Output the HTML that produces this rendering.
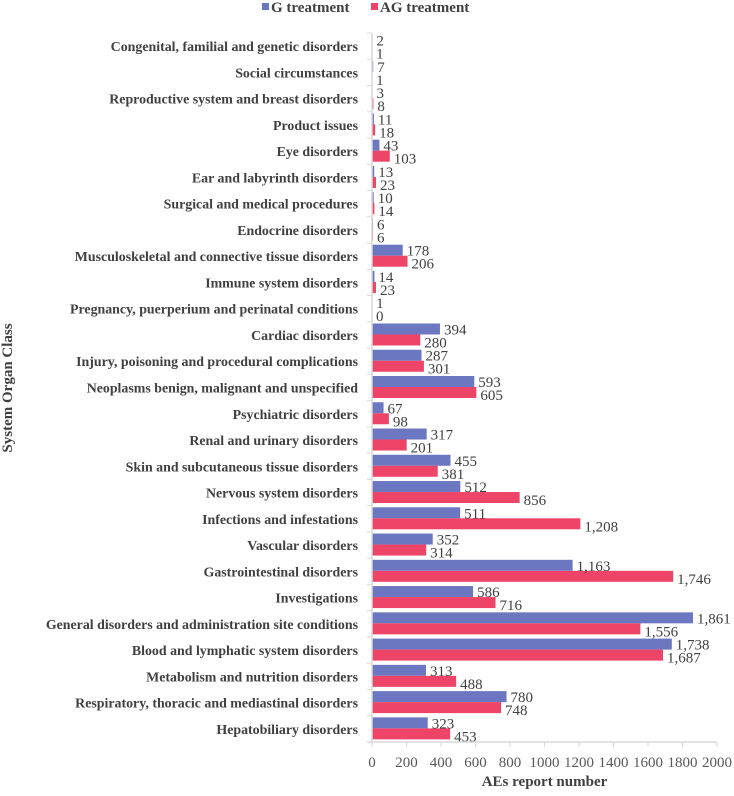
<!DOCTYPE html>
<html><head><meta charset="utf-8"><style>
body{margin:0;background:#fff;}
svg{font-family:"Liberation Serif",serif;}
</style></head><body>
<svg width="734" height="791" id="c">
</svg>
<script>
const categories=["Congenital, familial and genetic disorders","Social circumstances","Reproductive system and breast disorders","Product issues","Eye disorders","Ear and labyrinth disorders","Surgical and medical procedures","Endocrine disorders","Musculoskeletal and connective tissue disorders","Immune system disorders","Pregnancy, puerperium and perinatal conditions","Cardiac disorders","Injury, poisoning and procedural complications","Neoplasms benign, malignant and unspecified","Psychiatric disorders","Renal and urinary disorders","Skin and subcutaneous tissue disorders","Nervous system disorders","Infections and infestations","Vascular disorders","Gastrointestinal disorders","Investigations","General disorders and administration site conditions","Blood and lymphatic system disorders","Metabolism and nutrition disorders","Respiratory, thoracic and mediastinal disorders","Hepatobiliary disorders"];
const gValues=[2,7,3,11,43,13,10,6,178,14,1,394,287,593,67,317,455,512,511,352,1163,586,1861,1738,313,780,323];
const agValues=[1,1,8,18,103,23,14,6,206,23,0,280,301,605,98,201,381,856,1208,314,1746,716,1556,1687,488,748,453];
const xTicks=[0,200,400,600,800,1000,1200,1400,1600,1800,2000];
const svg=document.getElementById('c');const NS='http://www.w3.org/2000/svg';
const x0=372,x1=717,yTop=33,yBottom=742;const band=(yBottom-yTop)/categories.length;
const xs=v=>x0+(v/2000)*(x1-x0);
function mk(t,a,txt){const e=document.createElementNS(NS,t);for(const k in a)e.setAttribute(k,a[k]);if(txt!==undefined)e.textContent=txt;svg.appendChild(e);return e;}
const fmt=v=>v.toLocaleString('en-US');
categories.forEach((c,i)=>{const cy=yTop+band*(i+0.5);
let t=mk('text',{x:358,y:cy+5,'text-anchor':'end','font-size':'13.9','font-weight':'bold',fill:'#404040'},c);

let b=mk('rect',{x:x0,y:cy-11.5,width:Math.max(xs(gValues[i])-x0,0.5),height:11,fill:'#6c77c1'});

let r=mk('rect',{x:x0,y:cy-0.5,width:Math.max(xs(agValues[i])-x0,0.5),height:11,fill:'#ee4468'});

let l1=mk('text',{x:xs(gValues[i])+4,y:cy-0.5,'font-size':'15',fill:'#404040'},fmt(gValues[i]));

let l2=mk('text',{x:xs(agValues[i])+4,y:cy+12.5,'font-size':'15',fill:'#404040'},fmt(agValues[i]));

});
let ya=mk('line',{x1:x0,y1:yTop,x2:x0,y2:yBottom,stroke:'#d9d9d9','stroke-width':1.5});

let xa=mk('line',{x1:x0-5,y1:yBottom,x2:x1,y2:yBottom,stroke:'#d9d9d9','stroke-width':1.5});

for(let i=0;i<=categories.length;i++){let tk=mk('line',{x1:x0-5,y1:yTop+band*i,x2:x0,y2:yTop+band*i,stroke:'#d9d9d9'});}
xTicks.forEach(v=>{let tk=mk('line',{x1:xs(v),y1:yBottom,x2:xs(v),y2:yBottom+5,stroke:'#d9d9d9'});
let t=mk('text',{x:xs(v),y:767,'text-anchor':'middle','font-size':'15',fill:'#595959'},v);});
let xt=mk('text',{x:(x0+x1)/2,y:786,'text-anchor':'middle','font-size':'15','font-weight':'bold',fill:'#404040'},'AEs report number');

let yt=mk('text',{x:0,y:0,transform:'translate(12,388) rotate(-90)','text-anchor':'middle','font-size':'15','font-weight':'bold',fill:'#404040'},'System Organ Class');

let s1=mk('rect',{x:262,y:3,width:7,height:7,fill:'#6c77c1'});
let t1=mk('text',{x:271,y:12,'font-size':'15','font-weight':'bold',fill:'#404040'},'G treatment');
let s2=mk('rect',{x:371,y:3,width:7,height:7,fill:'#ee4468'});
let t2=mk('text',{x:380,y:12,'font-size':'15','font-weight':'bold',fill:'#404040'},'AG treatment');
</script>
</body></html>
